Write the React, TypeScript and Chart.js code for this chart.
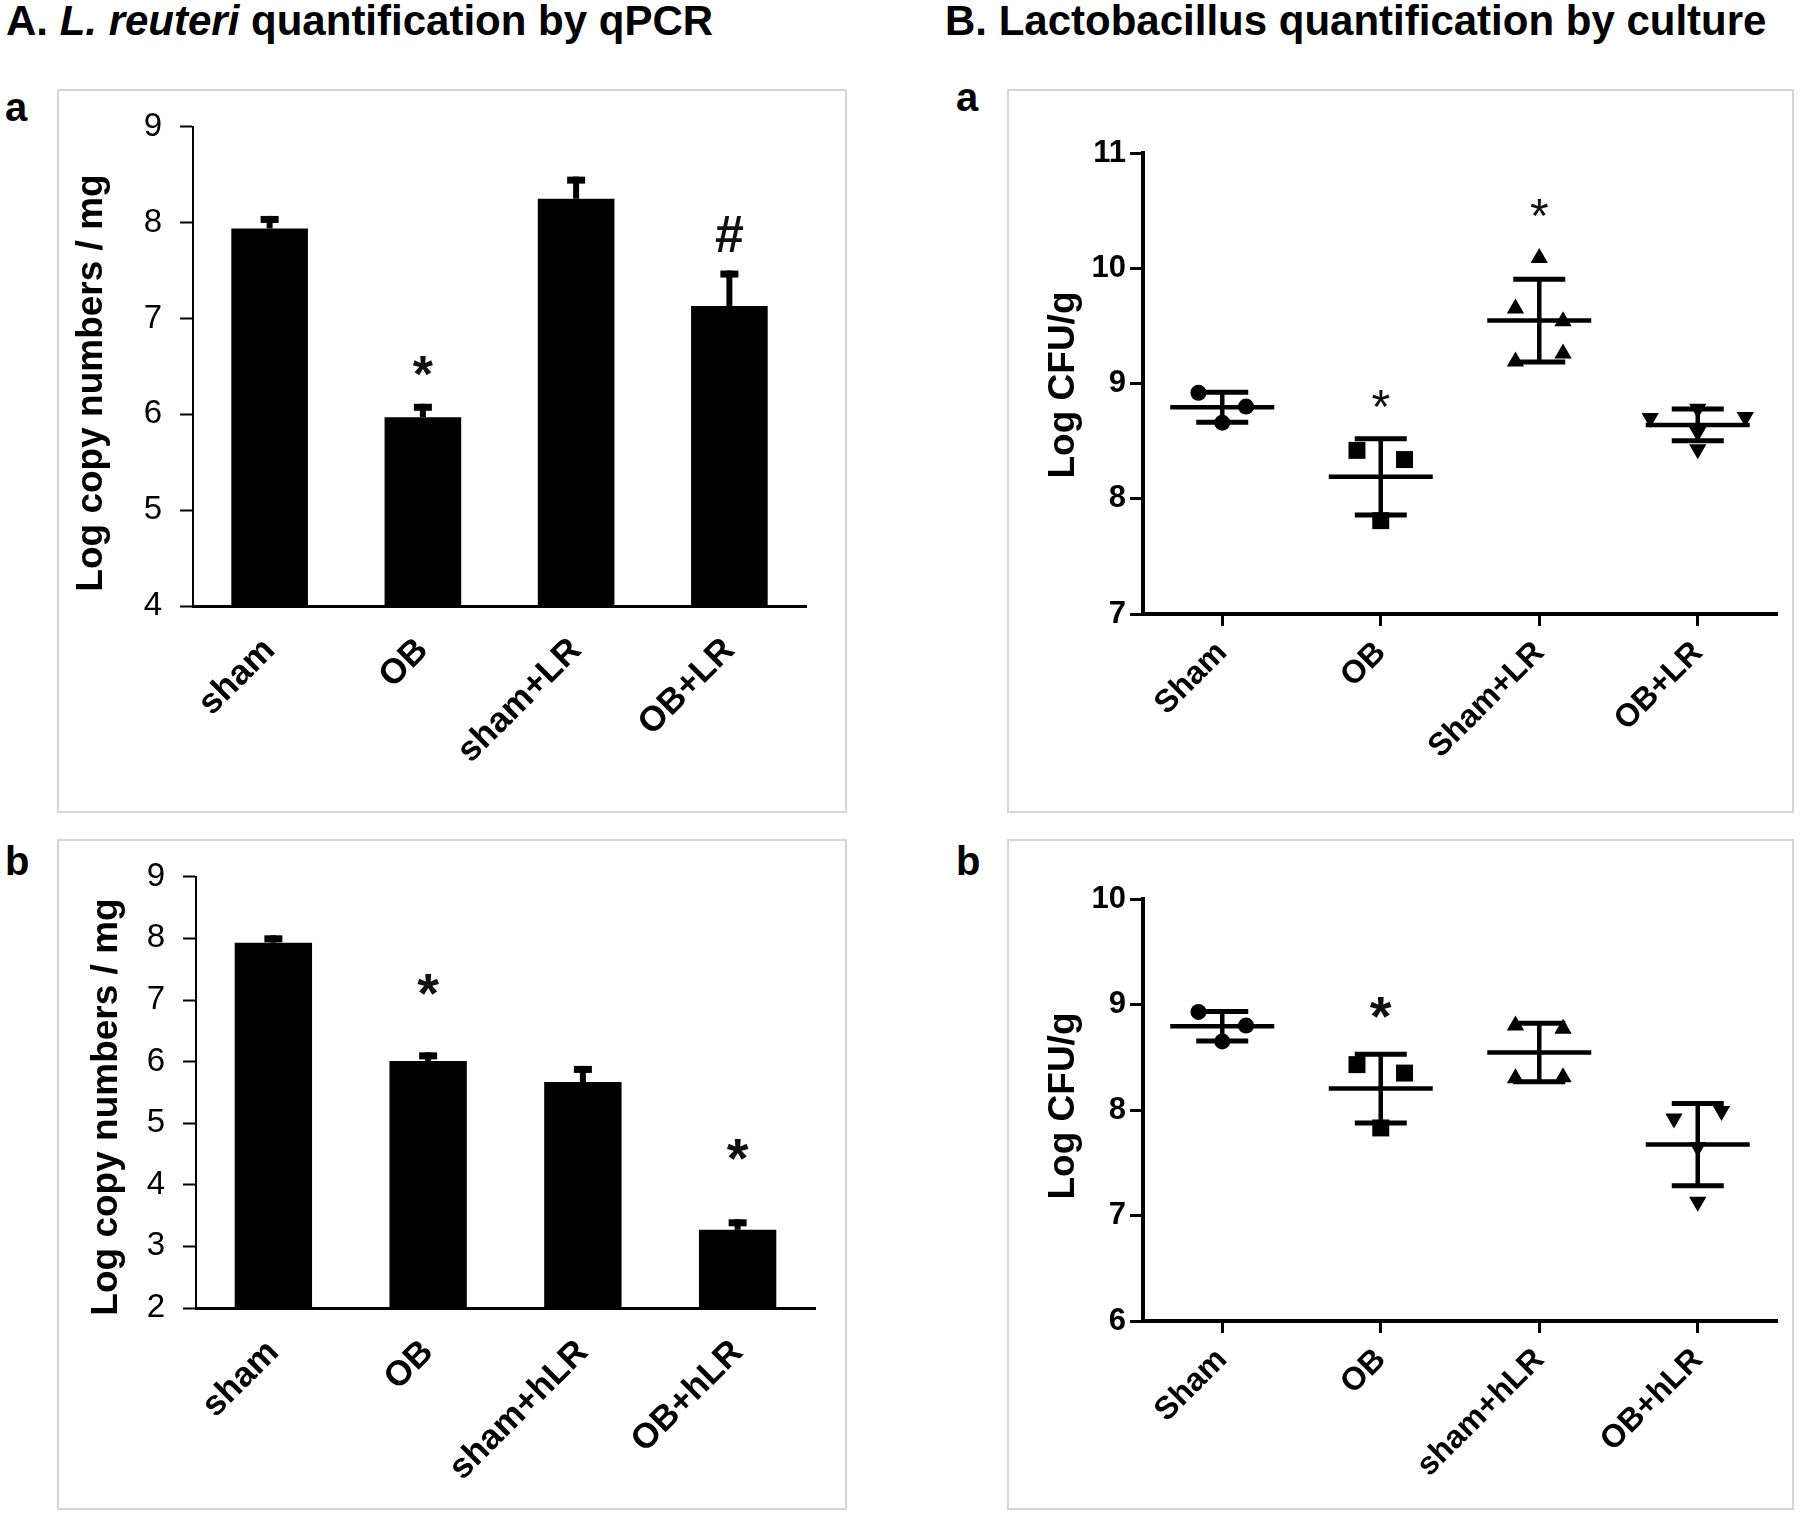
import React, { useEffect, useRef } from 'react';
import { Chart, registerables } from 'chart.js';

Chart.register(...registerables);

const FONT = '"Liberation Sans", Arial, Helvetica, sans-serif';

// ---------- Panel A.a : L. reuteri qPCR ----------
const qpcrCatsA = ['sham', 'OB', 'sham+LR', 'OB+LR'];
const qpcrMeansA = [7.94, 5.97, 8.25, 7.13];
const qpcrErrA = [0.13, 0.14, 0.23, 0.37];
const qpcrMarkTextA = ['', '*', '', '#'];
const qpcrMarkYA = [null, 6.5, null, 7.88];
const qpcrRangeA = [4, 9];

// ---------- Panel A.b : L. reuteri qPCR (hLR) ----------
const qpcrCatsB = ['sham', 'OB', 'sham+hLR', 'OB+hLR'];
const qpcrMeansB = [7.93, 6.01, 5.67, 3.27];
const qpcrErrB = [0.12, 0.14, 0.26, 0.17];
const qpcrMarkTextB = ['', '*', '', '*'];
const qpcrMarkYB = [null, 7.25, null, 4.57];
const qpcrRangeB = [2, 9];

// ---------- Panel B.a : culture ----------
const cultCatsA = ['Sham', 'OB', 'Sham+LR', 'OB+LR'];
const cultShamA = [8.92, 8.8, 8.66];
const cultObA = [8.42, 8.34, 7.81];
const cultShamLrA = [10.09, 9.65, 9.54, 9.19, 9.26];
const cultObLrA = [8.7, 8.78, 8.71, 8.58, 8.43];
const cultMarkTextA = ['', '*', '*', ''];
const cultMarkYA = [null, 8.87, 10.53, null];
const cultRangeA = [7, 11];

// ---------- Panel B.b : culture (hLR) ----------
const cultCatsB = ['Sham', 'OB', 'sham+hLR', 'OB+hLR'];
const cultShamB = [8.93, 8.8, 8.65];
const cultObB = [8.43, 8.35, 7.83];
const cultShamHlrB = [8.8, 8.77, 8.3, 8.31];
const cultObHlrB = [7.92, 7.99, 7.65, 7.13];
const cultMarkTextB = ['', '*', '', ''];
const cultMarkYB = [null, 8.97, null, null];
const cultRangeB = [6, 10];

type Box = { left: number; top: number; width: number; height: number };
type Area = { left: number; top: number; right: number; bottom: number };

function layoutFor(box: Box, area: Area) {
  return {
    padding: { top: area.top - box.top, right: box.left + box.width - area.right, left: 0, bottom: 0 },
    yWidth: area.left - box.left,
    xHeight: box.top + box.height - area.bottom,
  };
}

function makeMarksPlugin(texts: string[], ys: (number | null)[], font: string) {
  return {
    id: 'marks',
    afterDatasetsDraw(chart: any) {
      const ctx = chart.ctx;
      const xs = chart.scales.x;
      const ysc = chart.scales.y;
      ctx.save();
      ctx.fillStyle = '#111';
      ctx.font = font;
      ctx.textAlign = 'center';
      ctx.textBaseline = 'alphabetic';
      texts.forEach((t, i) => {
        const v = ys[i];
        if (!t || v == null) return;
        const m = ctx.measureText(t);
        const cy = ysc.getPixelForValue(v);
        const dy = (m.actualBoundingBoxAscent - m.actualBoundingBoxDescent) / 2;
        ctx.fillText(t, xs.getPixelForValue(i), cy + dy);
      });
      ctx.restore();
    },
  };
}

function makeYTitlePlugin(text: string, cx: number, cy: number, font: string) {
  return {
    id: 'ytitle',
    afterDraw(chart: any) {
      const ctx = chart.ctx;
      ctx.save();
      ctx.translate(cx, cy);
      ctx.rotate(-Math.PI / 2);
      ctx.font = font;
      ctx.fillStyle = '#000';
      ctx.textAlign = 'center';
      ctx.textBaseline = 'middle';
      ctx.fillText(text, 0, 0);
      ctx.restore();
    },
  };
}

const errorBarPlugin = {
  id: 'errorBars',
  afterDatasetsDraw(chart: any) {
    const ctx = chart.ctx;
    const meta = chart.getDatasetMeta(0);
    const ds: any = chart.data.datasets[0];
    const ysc = chart.scales.y;
    ctx.save();
    ctx.strokeStyle = '#000';
    ctx.lineCap = 'butt';
    meta.data.forEach((bar: any, i: number) => {
      const top = ysc.getPixelForValue(ds.data[i] + ds.errors[i]);
      ctx.lineWidth = 6;
      ctx.beginPath();
      ctx.moveTo(bar.x, bar.y);
      ctx.lineTo(bar.x, top);
      ctx.stroke();
      ctx.lineWidth = 7;
      ctx.beginPath();
      ctx.moveTo(bar.x - 9, top + 3.5);
      ctx.lineTo(bar.x + 9, top + 3.5);
      ctx.stroke();
    });
    ctx.restore();
  },
};

const meanSdPlugin = {
  id: 'meanSd',
  afterDatasetsDraw(chart: any) {
    const ctx = chart.ctx;
    const xs = chart.scales.x;
    const ysc = chart.scales.y;
    ctx.save();
    ctx.strokeStyle = '#000';
    ctx.lineCap = 'butt';
    chart.data.datasets.forEach((ds: any) => {
      const vals: number[] = ds.raw;
      const n = vals.length;
      const mean = vals.reduce((a, b) => a + b, 0) / n;
      const sd = Math.sqrt(vals.reduce((a, b) => a + (b - mean) * (b - mean), 0) / (n - 1));
      const cx = xs.getPixelForValue(ds.group);
      const ym = ysc.getPixelForValue(mean);
      const yt = ysc.getPixelForValue(mean + sd);
      const yb = ysc.getPixelForValue(mean - sd);
      ctx.lineWidth = 4.5;
      ctx.beginPath();
      ctx.moveTo(cx - 52, ym);
      ctx.lineTo(cx + 52, ym);
      ctx.moveTo(cx, yt);
      ctx.lineTo(cx, yb);
      ctx.stroke();
      ctx.lineWidth = 5;
      ctx.beginPath();
      ctx.moveTo(cx - 26, yt);
      ctx.lineTo(cx + 26, yt);
      ctx.moveTo(cx - 26, yb);
      ctx.lineTo(cx + 26, yb);
      ctx.stroke();
    });
    ctx.restore();
  },
};

// spread points of a group horizontally when their values are close (simple beeswarm)
function swarmOffsets(values: number[], thr: number, gap: number): number[] {
  const order = values.map((_, i) => i).sort((a, b) => values[b] - values[a]);
  const rows: number[][] = [];
  for (const i of order) {
    const row = rows[rows.length - 1];
    if (row && values[row[0]] - values[i] < thr) row.push(i);
    else rows.push([i]);
  }
  const off = new Array(values.length).fill(0);
  rows.forEach((row) => {
    const s = [...row].sort((a, b) => a - b);
    s.forEach((idx, k) => {
      off[idx] = (k - (s.length - 1) / 2) * gap;
    });
  });
  return off;
}

type BarProps = {
  box: Box;
  area: Area;
  cats: string[];
  means: number[];
  errs: number[];
  range: number[];
  markTexts: string[];
  markYs: (number | null)[];
  markFonts: string;
  title: string;
  titleX: number;
  titleY: number;
};

function BarPanel(p: BarProps) {
  const ref = useRef<HTMLCanvasElement>(null);
  useEffect(() => {
    const { padding, yWidth, xHeight } = layoutFor(p.box, p.area);
    const chart = new Chart(ref.current as HTMLCanvasElement, {
      type: 'bar',
      data: {
        labels: p.cats,
        datasets: [
          {
            data: p.means,
            backgroundColor: '#000',
            borderWidth: 0,
            barPercentage: 0.5,
            categoryPercentage: 1,
            errors: p.errs,
          } as any,
        ],
      },
      options: {
        animation: false,
        responsive: false,
        maintainAspectRatio: false,
        devicePixelRatio: 1,
        layout: { padding },
        plugins: { legend: { display: false }, tooltip: { enabled: false } },
        scales: {
          x: {
            type: 'category',
            offset: true,
            grid: { display: true, drawOnChartArea: false, drawTicks: false },
            border: { display: true, color: '#000', width: 3 },
            ticks: {
              color: '#000',
              font: { family: FONT, size: 35, weight: 'bold' },
              minRotation: 45,
              maxRotation: 45,
              autoSkip: false,
              padding: 24,
            },
            afterFit: (s: any) => {
              s.height = xHeight;
            },
          },
          y: {
            min: p.range[0],
            max: p.range[1],
            ticks: { stepSize: 1, color: '#000', font: { family: FONT, size: 33 }, padding: 18 },
            grid: { drawOnChartArea: false, drawTicks: true, tickLength: 13, tickWidth: 2, tickColor: '#000' },
            border: { display: true, color: '#000', width: 2 },
            afterFit: (s: any) => {
              s.width = yWidth;
            },
          },
        },
      } as any,
      plugins: [
        errorBarPlugin,
        makeMarksPlugin(p.markTexts, p.markYs, p.markFonts),
        makeYTitlePlugin(p.title, p.titleX - p.box.left, p.titleY - p.box.top, `bold 37px ${FONT}`),
      ],
    });
    return () => chart.destroy();
  }, []);
  return (
    <canvas
      ref={ref}
      width={p.box.width}
      height={p.box.height}
      style={{ position: 'absolute', left: p.box.left, top: p.box.top, width: p.box.width, height: p.box.height }}
    />
  );
}

type ScatterProps = {
  box: Box;
  area: Area;
  cats: string[];
  groups: number[][];
  range: number[];
  markTexts: string[];
  markYs: (number | null)[];
  markFont: string;
  title: string;
  titleX: number;
  titleY: number;
};

const GROUP_STYLES = [
  { pointStyle: 'circle', rotation: 0, radius: 8 },
  { pointStyle: 'rect', rotation: 0, radius: 12 },
  { pointStyle: 'triangle', rotation: 0, radius: 10 },
  { pointStyle: 'triangle', rotation: 180, radius: 10 },
];

function ScatterPanel(p: ScatterProps) {
  const ref = useRef<HTMLCanvasElement>(null);
  useEffect(() => {
    const { padding, yWidth, xHeight } = layoutFor(p.box, p.area);
    const datasets = p.groups.map((vals, g) => {
      const off = swarmOffsets(vals, 0.13, 0.3);
      const st = GROUP_STYLES[g];
      return {
        data: vals.map((v, i) => ({ x: g + off[i], y: v })),
        pointStyle: st.pointStyle,
        pointRotation: st.rotation,
        pointRadius: st.radius,
        pointBackgroundColor: '#000',
        pointBorderColor: '#000',
        pointBorderWidth: 0,
        showLine: false,
        raw: vals,
        group: g,
      } as any;
    });
    const chart = new Chart(ref.current as HTMLCanvasElement, {
      type: 'scatter',
      data: { datasets },
      options: {
        animation: false,
        responsive: false,
        maintainAspectRatio: false,
        devicePixelRatio: 1,
        layout: { padding },
        plugins: { legend: { display: false }, tooltip: { enabled: false } },
        scales: {
          x: {
            type: 'linear',
            min: -0.5,
            max: p.cats.length - 0.5,
            afterBuildTicks: (s: any) => {
              s.ticks = p.cats.map((_, i) => ({ value: i }));
            },
            ticks: {
              callback: (v: any) => p.cats[v as number] ?? '',
              color: '#000',
              font: { family: FONT, size: 32, weight: 'bold' },
              minRotation: 45,
              maxRotation: 45,
              autoSkip: false,
              padding: 8,
            },
            grid: { drawOnChartArea: false, drawTicks: true, tickLength: 12, tickWidth: 3, tickColor: '#000' },
            border: { display: true, color: '#000', width: 4 },
            afterFit: (s: any) => {
              s.height = xHeight;
            },
          },
          y: {
            min: p.range[0],
            max: p.range[1],
            ticks: { stepSize: 1, color: '#000', font: { family: FONT, size: 31, weight: 'bold' }, padding: 4 },
            grid: { drawOnChartArea: false, drawTicks: true, tickLength: 13, tickWidth: 3, tickColor: '#000' },
            border: { display: true, color: '#000', width: 4 },
            afterFit: (s: any) => {
              s.width = yWidth;
            },
          },
        },
      } as any,
      plugins: [
        meanSdPlugin,
        makeMarksPlugin(p.markTexts, p.markYs, p.markFont),
        makeYTitlePlugin(p.title, p.titleX - p.box.left, p.titleY - p.box.top, `bold 37px ${FONT}`),
      ],
    });
    return () => chart.destroy();
  }, []);
  return (
    <canvas
      ref={ref}
      width={p.box.width}
      height={p.box.height}
      style={{ position: 'absolute', left: p.box.left, top: p.box.top, width: p.box.width, height: p.box.height }}
    />
  );
}

function Frame({ box }: { box: Box }) {
  return (
    <div
      style={{
        position: 'absolute',
        left: box.left,
        top: box.top,
        width: box.width,
        height: box.height,
        boxSizing: 'border-box',
        border: '2px solid #d6d6d6',
      }}
    />
  );
}

function Label({ text, left, baseline, size }: { text: React.ReactNode; left: number; baseline: number; size: number }) {
  return (
    <div
      style={{
        position: 'absolute',
        left,
        top: baseline - 0.8465 * size,
        fontSize: size,
        lineHeight: `${size}px`,
        fontWeight: 'bold',
        fontFamily: FONT,
        whiteSpace: 'nowrap',
        color: '#000',
      }}
    >
      {text}
    </div>
  );
}

const boxAa: Box = { left: 57, top: 89, width: 790, height: 724 };
const areaAa: Area = { left: 193, top: 125, right: 806, bottom: 606 };
const boxAb: Box = { left: 57, top: 839, width: 790, height: 671 };
const areaAb: Area = { left: 196, top: 873, right: 815, bottom: 1308 };
const boxBa: Box = { left: 1007, top: 89, width: 787, height: 724 };
const areaBa: Area = { left: 1143, top: 153, right: 1777, bottom: 614 };
const boxBb: Box = { left: 1007, top: 839, width: 787, height: 671 };
const areaBb: Area = { left: 1143, top: 899, right: 1777, bottom: 1321 };

export default function App() {
  return (
    <div
      style={{
        position: 'absolute',
        left: 0,
        top: 0,
        width: 1800,
        height: 1514,
        background: '#fff',
        overflow: 'hidden',
      }}
    >
      <Label
        left={6}
        baseline={36}
        size={42}
        text={
          <>
            A. <i>L. reuteri</i> quantification by qPCR
          </>
        }
      />
      <Label left={945} baseline={36} size={42} text="B. Lactobacillus quantification by culture" />
      <Frame box={boxAa} />
      <Frame box={boxAb} />
      <Frame box={boxBa} />
      <Frame box={boxBb} />
      <Label left={5} baseline={121} size={40} text="a" />
      <Label left={5} baseline={875} size={40} text="b" />
      <Label left={956} baseline={111} size={40} text="a" />
      <Label left={956} baseline={875} size={40} text="b" />
      <BarPanel
        box={boxAa}
        area={areaAa}
        cats={qpcrCatsA}
        means={qpcrMeansA}
        errs={qpcrErrA}
        range={qpcrRangeA}
        markTexts={qpcrMarkTextA}
        markYs={qpcrMarkYA}
        markFonts={`bold 52px ${FONT}`}
        title="Log copy numbers / mg"
        titleX={92}
        titleY={383}
      />
      <BarPanel
        box={boxAb}
        area={areaAb}
        cats={qpcrCatsB}
        means={qpcrMeansB}
        errs={qpcrErrB}
        range={qpcrRangeB}
        markTexts={qpcrMarkTextB}
        markYs={qpcrMarkYB}
        markFonts={`bold 56px ${FONT}`}
        title="Log copy numbers / mg"
        titleX={107}
        titleY={1107}
      />
      <ScatterPanel
        box={boxBa}
        area={areaBa}
        cats={cultCatsA}
        groups={[cultShamA, cultObA, cultShamLrA, cultObLrA]}
        range={cultRangeA}
        markTexts={cultMarkTextA}
        markYs={cultMarkYA}
        markFont={`48px ${FONT}`}
        title="Log CFU/g"
        titleX={1064}
        titleY={385}
      />
      <ScatterPanel
        box={boxBb}
        area={areaBb}
        cats={cultCatsB}
        groups={[cultShamB, cultObB, cultShamHlrB, cultObHlrB]}
        range={cultRangeB}
        markTexts={cultMarkTextB}
        markYs={cultMarkYB}
        markFont={`bold 56px ${FONT}`}
        title="Log CFU/g"
        titleX={1064}
        titleY={1106}
      />
    </div>
  );
}
